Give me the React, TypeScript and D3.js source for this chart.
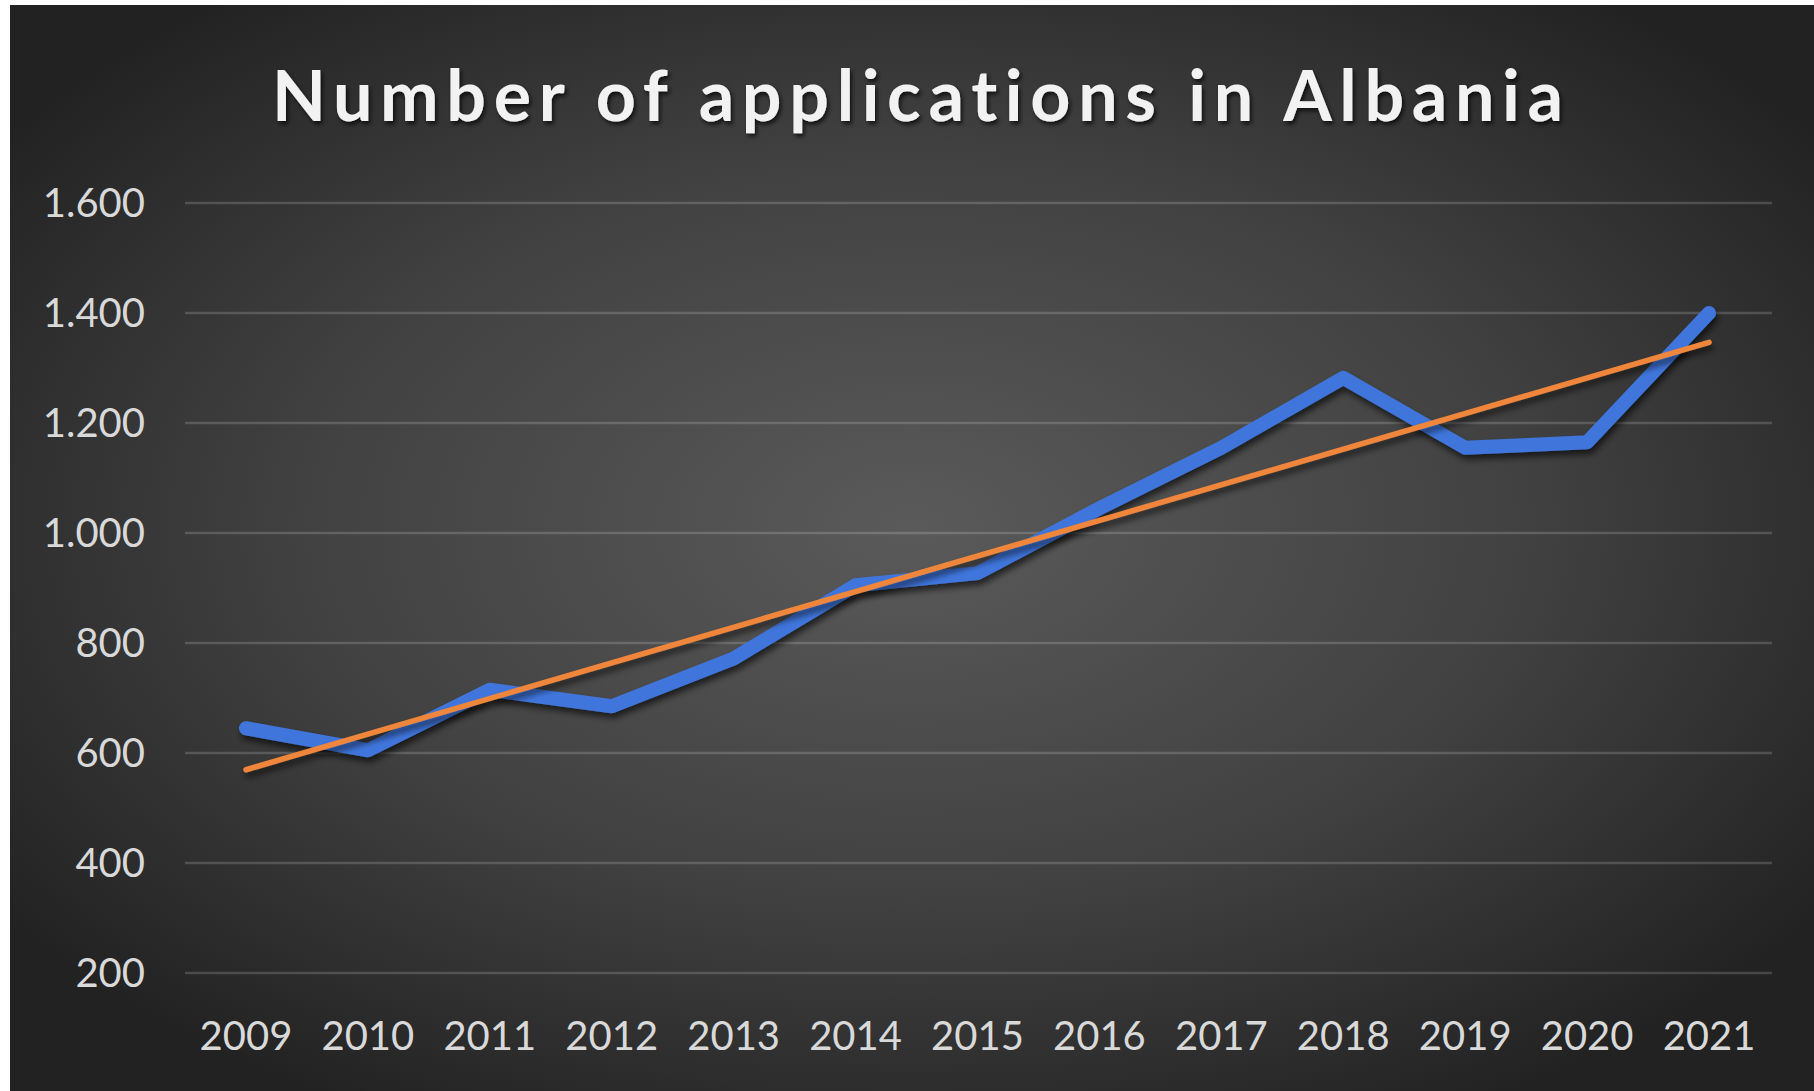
import * as d3 from 'd3';

// data
const years = ['2009', '2010', '2011', '2012', '2013', '2014', '2015', '2016', '2017', '2018', '2019', '2020', '2021'];
const applications = [645, 605, 715, 685, 772, 905, 927, 1045, 1155, 1282, 1155, 1165, 1400];
const yTicks = [200, 400, 600, 800, 1000, 1200, 1400, 1600];
const title = 'Number of applications in Albania';

const W = 1814;
const H = 1091;

const locale = d3.formatLocale({ decimal: ',', thousands: '.', grouping: [3], currency: ['', ''] });
const fmt = locale.format(',');

// linear trendline (least squares on the category index)
function trend(values: number[]) {
  const n = values.length;
  const mx = d3.mean(values.map((_, i) => i)) as number;
  const my = d3.mean(values) as number;
  let sxy = 0;
  let sxx = 0;
  values.forEach((v, i) => {
    sxy += (i - mx) * (v - my);
    sxx += (i - mx) * (i - mx);
  });
  const slope = sxy / sxx;
  const b = my - slope * mx;
  return [b, b + slope * (n - 1)];
}

const App = () => {
  const x = d3.scaleBand<string>().domain(years).range([185, 1770]);
  const y = d3.scaleLinear().domain([200, 1600]).range([973, 203]);
  const cx = (yr: string) => (x(yr) as number) + x.bandwidth() / 2;

  const line = d3.line<number>()
    .x((_, i) => cx(years[i]))
    .y(d => y(d));

  const [t0, t1] = trend(applications);
  const trendPath = d3.line<[string, number]>()
    .x(d => cx(d[0]))
    .y(d => y(d[1]))([[years[0], t0], [years[years.length - 1], t1]]);

  return (
    <div style={{ position: 'absolute', left: 0, top: 0, background: '#fff' }}>
      <svg width={W} height={H} style={{ display: 'block', fontVariantLigatures: 'none' }}>
        <defs>
          <radialGradient id="bg" cx="50%" cy="48%" r="62%">
            <stop offset="0%" stopColor="#5a5a5a" />
            <stop offset="55%" stopColor="#414141" />
            <stop offset="100%" stopColor="#222222" />
          </radialGradient>
          <filter id="shadow" x="-10%" y="-10%" width="120%" height="130%">
            <feDropShadow dx="2" dy="5" stdDeviation="3" floodColor="#000" floodOpacity="0.6" />
          </filter>
          <filter id="tshadow" x="-5%" y="-30%" width="110%" height="160%">
            <feDropShadow dx="2" dy="3" stdDeviation="2" floodColor="#000" floodOpacity="0.7" />
          </filter>
        </defs>
        <rect x={0} y={0} width={W} height={H} fill="#fff" />
        <rect x={10} y={5} width={W - 10} height={H - 5} fill="url(#bg)" />

        <text
          x={272}
          y={121}
          textLength={1291}
          lengthAdjust="spacing"
          fontFamily="Lato, 'Open Sans', sans-serif"
          fontWeight={700}
          fontSize={70}
          fill="#f2f2f2"
          style={{ fontVariantLigatures: 'none', fontFeatureSettings: '"liga" 0' }}
          filter="url(#tshadow)"
        >
          {title}
        </text>

        {yTicks.map(t => (
          <g key={t}>
            <line x1={185} x2={1772} y1={y(t)} y2={y(t)} stroke="#ffffff" strokeOpacity={0.17} strokeWidth={2.5} />
            <text
              x={145}
              y={y(t)}
              dy="0.36em"
              textAnchor="end"
              fontFamily="Lato, 'Open Sans', sans-serif"
              fontSize={40}
              fill="#d9d9d9"
            >
              {fmt(t)}
            </text>
          </g>
        ))}

        {years.map(yr => (
          <text
            key={yr}
            x={cx(yr)}
            y={1050}
            textAnchor="middle"
            fontFamily="Lato, 'Open Sans', sans-serif"
            fontSize={40}
            fill="#d9d9d9"
          >
            {yr}
          </text>
        ))}

        <path
          d={line(applications) ?? ''}
          fill="none"
          stroke="#3f76dc"
          strokeWidth={14}
          strokeLinejoin="round"
          strokeLinecap="round"
          filter="url(#shadow)"
        />
        <path
          d={trendPath ?? ''}
          fill="none"
          stroke="#f0863a"
          strokeWidth={5.5}
          strokeLinecap="round"
          filter="url(#shadow)"
        />
      </svg>
    </div>
  );
};

export default App;
